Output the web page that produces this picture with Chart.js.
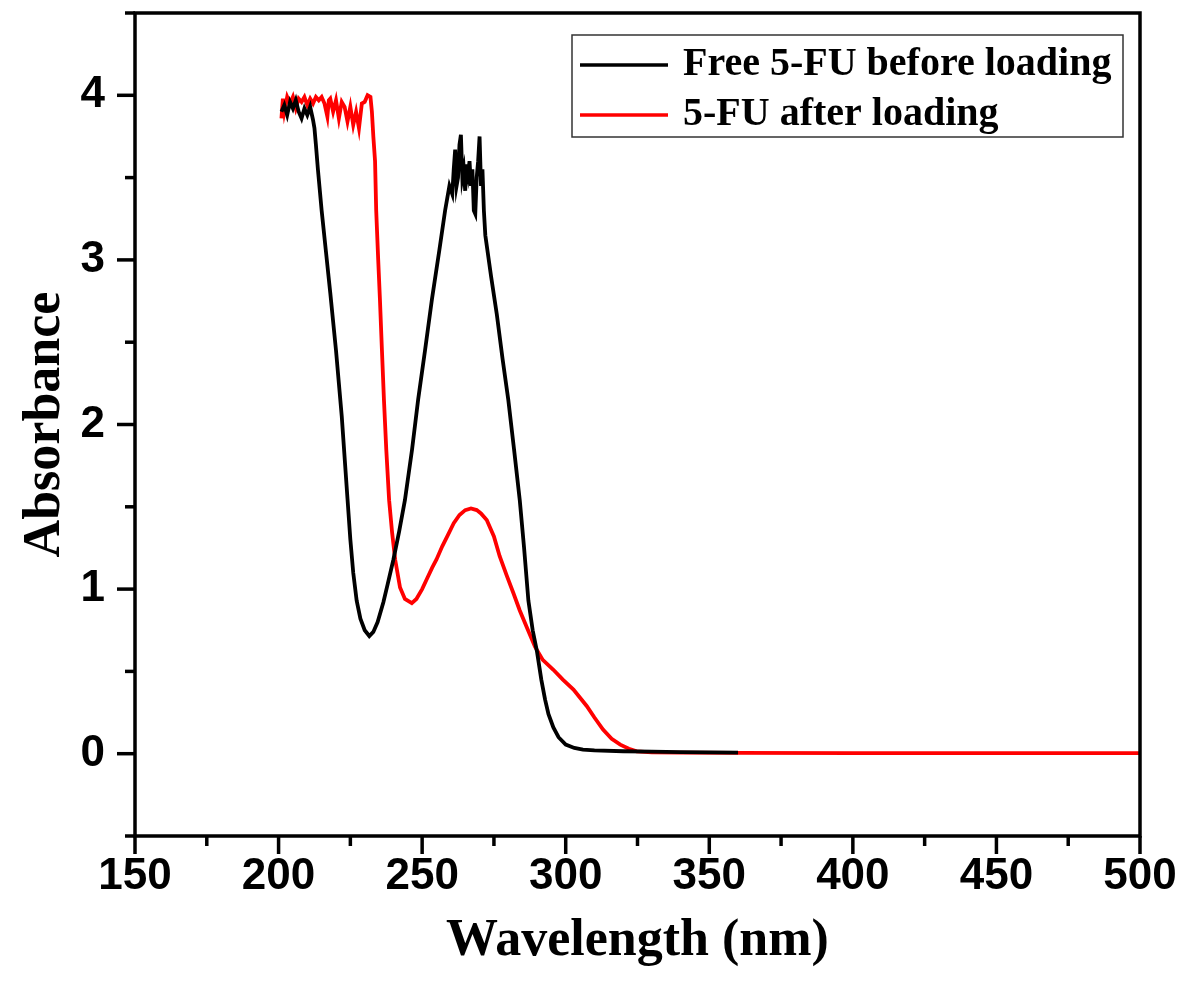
<!DOCTYPE html>
<html>
<head>
<meta charset="utf-8">
<script src="https://cdn.jsdelivr.net/npm/chart.js@4.4.1/dist/chart.umd.min.js"></script>
<style>
html,body{margin:0;padding:0;background:#fff;}
#wrap{width:1186px;height:993px;}
</style>
</head>
<body>
<div id="wrap"><canvas id="c" width="1186" height="993"></canvas></div>
<script>
// ---- data ----
const seriesLabels = ["Free 5-FU before loading", "5-FU after loading"];
const seriesColors = ["#000000", "#ff0000"];

const freeWavelength = [201,202,203,204,205,206,207,208,209,210,211,212,212.5,213,213.7,215,216.5,218,220,222,224,225,226,227.2,228.5,230,231.6,233,234.5,236.5,238,240,242,244,246.5,248.6,251,253.4,256,258,259.5,260.5,261,261.5,262,262.5,263,263.5,264,264.5,265,265.5,266,266.5,267,267.5,268,268.5,269,269.5,270,270.5,271,271.5,272,274,276,278,280,282,284,285.5,287,288.5,290,291.5,292.8,294,295.7,297.5,300,303,306,310,320,330,340,350,360];
const freeAbsorbance = [3.90,3.94,3.88,3.96,3.92,3.97,3.90,3.86,3.92,3.88,3.93,3.85,3.80,3.70,3.55,3.30,3.05,2.80,2.45,2.05,1.55,1.30,1.10,0.93,0.82,0.75,0.715,0.74,0.80,0.92,1.03,1.18,1.35,1.54,1.85,2.15,2.45,2.76,3.06,3.30,3.45,3.40,3.55,3.67,3.45,3.50,3.70,3.76,3.50,3.55,3.42,3.58,3.52,3.60,3.45,3.55,3.30,3.28,3.50,3.60,3.75,3.45,3.55,3.30,3.15,2.90,2.67,2.40,2.15,1.85,1.54,1.25,0.93,0.75,0.62,0.45,0.33,0.24,0.16,0.10,0.055,0.035,0.025,0.020,0.015,0.013,0.010,0.008,0.007];

const loadedWavelength = [201,201.5,202,203,204,205,206,207,208,209,210,211,212,213,214,215,216,217,217.5,218,219,220,221,222,223,224,225,226,227,228,229,230,231,232,232.5,233,233.6,234,234.7,235.3,236,236.7,237.5,238.5,239.5,240.6,242.3,244,246.4,248,250,251.6,253.5,255,257,259,261,263,265,267,269,270.5,272.5,275,277,279.5,281.8,284,286.4,289.3,292,295.7,299,302.7,305,307.3,310,313,316,319,322,324.7,330,340,360,400,450,500];
const loadedAbsorbance = [3.86,3.98,3.90,3.99,3.95,3.99,3.92,3.98,3.96,3.99,3.94,3.98,3.95,3.99,3.97,3.99,3.95,3.87,3.97,3.98,3.90,3.97,3.86,3.96,3.93,3.84,3.93,3.82,3.90,3.80,3.95,3.96,4.00,3.99,3.90,3.75,3.60,3.30,3.00,2.76,2.45,2.15,1.85,1.54,1.35,1.18,1.01,0.94,0.915,0.94,1.00,1.06,1.13,1.18,1.26,1.33,1.40,1.45,1.48,1.49,1.48,1.46,1.42,1.32,1.20,1.08,0.975,0.87,0.77,0.65,0.57,0.51,0.45,0.39,0.34,0.29,0.22,0.146,0.09,0.055,0.03,0.014,0.008,0.006,0.005,0.004,0.003,0.003];

const xTickStep = 25;       // minor spacing; labels every 50
const yTickStep = 0.5;      // minor spacing; labels every 1
const xRange = [150, 500];
const yRange = [-0.5, 4.5];
const xTitle = "Wavelength (nm)";
const yTitle = "Absorbance";

function pairs(xs, ys){ return xs.map((x,i)=>({x:x, y:ys[i]})); }

const tickFont = {family:"Arial, 'Liberation Sans', sans-serif", size:44, weight:'bold'};
const titleFont = {family:"'Times New Roman', 'Liberation Serif', serif", size:52, weight:'bold'};
const legendFontCss = "bold 40px 'Times New Roman', 'Liberation Serif', serif";

// frame + ticks plugin
const framePlugin = {
  id:'frame',
  afterDraw(chart){
    const {ctx, chartArea:a, scales} = chart;
    ctx.save();
    ctx.strokeStyle = '#000';
    ctx.lineWidth = 3.5;
    ctx.lineCap = 'butt';
    ctx.strokeRect(a.left, a.top, a.right - a.left, a.bottom - a.top);
    const xs = scales.x;
    xs.ticks.forEach(t=>{
      const px = xs.getPixelForValue(t.value);
      const major = Math.abs(t.value % 50) < 1e-6;
      ctx.beginPath();
      ctx.moveTo(px, a.bottom);
      ctx.lineTo(px, a.bottom + (major ? 18 : 10));
      ctx.stroke();
    });
    const ys = scales.y;
    ys.ticks.forEach(t=>{
      const py = ys.getPixelForValue(t.value);
      const major = Math.abs(t.value - Math.round(t.value)) < 1e-6;
      ctx.beginPath();
      ctx.moveTo(a.left, py);
      ctx.lineTo(a.left - (major ? 18 : 10), py);
      ctx.stroke();
    });
    // legend
    const bx = 572, by = 35, bw = 551, bh = 102;
    ctx.lineWidth = 1.5;
    ctx.strokeStyle = '#333';
    ctx.strokeRect(bx, by, bw, bh);
    ctx.font = legendFontCss;
    ctx.textBaseline = 'middle';
    ctx.textAlign = 'left';
    chart.data.datasets.forEach((ds,i)=>{
      const ry = by + 30 + i*50;
      ctx.strokeStyle = ds.borderColor;
      ctx.lineWidth = 3.5;
      ctx.beginPath();
      ctx.moveTo(bx + 8, ry);
      ctx.lineTo(bx + 96, ry);
      ctx.stroke();
      ctx.fillStyle = '#000';
      ctx.fillText(ds.label, bx + 111, ry);
    });
    ctx.restore();
  }
};

new Chart(document.getElementById('c'), {
  type:'line',
  data:{
    datasets:[
      {label:seriesLabels[0], data:pairs(freeWavelength, freeAbsorbance), borderColor:seriesColors[0], borderWidth:3.8, pointRadius:0, tension:0, fill:false},
      {label:seriesLabels[1], data:pairs(loadedWavelength, loadedAbsorbance), borderColor:seriesColors[1], borderWidth:3.8, pointRadius:0, tension:0, fill:false}
    ]
  },
  options:{
    responsive:false,
    animation:false,
    devicePixelRatio:1,
    layout:{padding:{top:13, right:46, left:0, bottom:0}},
    plugins:{legend:{display:false}, tooltip:{enabled:false}},
    scales:{
      x:{
        type:'linear', min:xRange[0], max:xRange[1],
        border:{display:false},
        grid:{display:false, drawTicks:false, tickLength:0},
        ticks:{stepSize:xTickStep, padding:14, color:'#000', font:tickFont, maxRotation:0, autoSkip:false,
          callback:(v)=> (Math.abs(v % 50) < 1e-6 ? String(v) : '')},
        title:{display:true, text:xTitle, color:'#000', font:titleFont, padding:{top:0,bottom:20}},
        afterFit(s){ s.height = 157; s.paddingLeft = 0; s.paddingRight = 0; }
      },
      y:{
        type:'linear', min:yRange[0], max:yRange[1],
        border:{display:false},
        grid:{display:false, drawTicks:false, tickLength:0},
        ticks:{stepSize:yTickStep, padding:30, color:'#000', font:tickFont, autoSkip:false,
          callback:(v)=> (Math.abs(v - Math.round(v)) < 1e-6 && v >= 0 && v <= 4 ? String(v) : '')},
        title:{display:true, text:yTitle, color:'#000', font:titleFont, padding:{top:14,bottom:0}},
        afterFit(s){ s.width = 135; s.paddingTop = 0; s.paddingBottom = 0; }
      }
    }
  },
  plugins:[framePlugin]
});
</script>
</body>
</html>
